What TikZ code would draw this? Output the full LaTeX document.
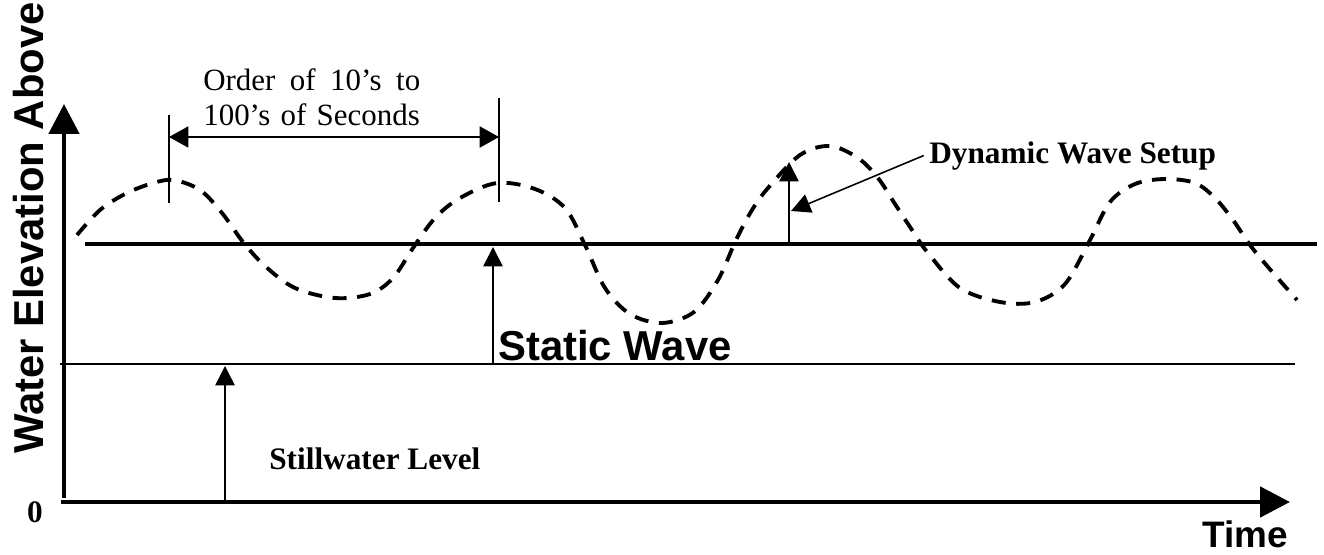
\documentclass[tikz,border=0pt]{standalone}
\usepackage{fontspec}
\setmainfont{Liberation Serif}
\setsansfont{Liberation Sans}
\usetikzlibrary{arrows.meta, positioning, calc}

\begin{document}
\begin{tikzpicture}[x=0.02cm, y=-0.02cm, every node/.style={inner sep=0pt},
  axis/.style={line width=2.8pt, -{Triangle[length=17pt, width=17pt]}},
  thinarrow/.style={line width=0.9pt, -{Triangle[length=11pt, width=11pt]}},
  wave/.style={line width=2.2pt, dash pattern=on 8pt off 6pt},
  bigsans/.style={font=\sffamily\bfseries\fontsize{23.8}{26}\selectfont},
  seriflabel/.style={font=\bfseries\fontsize{17.8}{20}\selectfont}]
\useasboundingbox (0,0) rectangle (1324,554);

% axes
\coordinate (ybot) at (64,498);
\coordinate (ytop) at (64,104);
\coordinate (xleft) at (61,502);
\coordinate (xright) at (1290,502);
\draw[axis] (ybot) -- (ytop);
\draw[axis] (xleft) -- (xright);
\node[bigsans, rotate=90, anchor=base] (ylabel) at (43,228) {Water Elevation Above};
\node[bigsans, font=\sffamily\bfseries\fontsize{21}{24}\selectfont, anchor=base] (xlabel) at (1245,547) {Time};
\node[seriflabel, anchor=base] (zero) at (35,522) {0};

% levels
\coordinate (swl west) at (60,364);
\coordinate (swl east) at (1295,364);
\coordinate (mean west) at (85,244);
\coordinate (mean east) at (1317,244);
\draw[line width=0.85pt] (swl west) -- (swl east);
\draw[line width=2.2pt] (mean west) -- (mean east);

% dashed wave
\draw[wave] plot[smooth, tension=0.55] coordinates {
  (77,235) (100,210) (125,194) (150,184) (173,180) (200,190) (222,213)
  (243,242) (265,266) (295,288) (335,298) (370,294) (393,278) (413,248)
  (435,218) (460,198) (497,183) (535,189) (565,208) (585,245) (605,288)
  (630,314) (662,323) (694,312) (718,280) (736,240) (752,210) (768,188)
  (800,155) (830,146) (858,158) (878,178) (895,204) (912,230) (928,253)
  (960,288) (1000,302) (1035,302) (1065,284) (1090,240) (1110,202)
  (1135,184) (1165,179) (1195,183) (1215,198) (1233,220) (1250,245)
  (1268,267) (1297,300)};

% period marks
\coordinate (tick1 top) at (169,115);
\coordinate (tick1 bot) at (169,203);
\coordinate (tick2 top) at (499,98);
\coordinate (tick2 bot) at (499,202);
\draw[line width=0.9pt] (tick1 top) -- (tick1 bot);
\draw[line width=0.9pt] (tick2 top) -- (tick2 bot);
\draw[line width=0.9pt, {Triangle[length=11pt, width=12pt]}-{Triangle[length=11pt, width=12pt]}]
  (tick1 top |- 0,137) -- (tick2 top |- 0,137);
\node[anchor=base west, text width=4.34cm, align=left,
  font=\fontsize{17.6}{19.8}\selectfont] (period) at (203,91)
  {Order\hfill of\hfill 10's\hfill to\\100's of Seconds};

% level arrows
\coordinate (swl foot) at (225,502);
\coordinate (swl head) at (225,366);
\draw[thinarrow] (swl foot) -- (swl head);
\node[seriflabel, anchor=base west] (swl) at (269,469) {Stillwater Level};

\coordinate (static foot) at (493,364);
\coordinate (static head) at (493,247);
\draw[thinarrow] (static foot) -- (static head);
\node[bigsans, anchor=base west] (static) at (498,360) {Static Wave};

\coordinate (dyn foot) at (789,244);
\coordinate (dyn head) at (789,162);
\draw[thinarrow] (dyn foot) -- (dyn head);
\node[seriflabel, anchor=base west] (dws) at (929,163) {Dynamic Wave Setup};
\coordinate (dyn point) at (791,211);
\draw[thinarrow] ([xshift=-3pt]dws.west) -- (dyn point);
\end{tikzpicture}
\end{document}
